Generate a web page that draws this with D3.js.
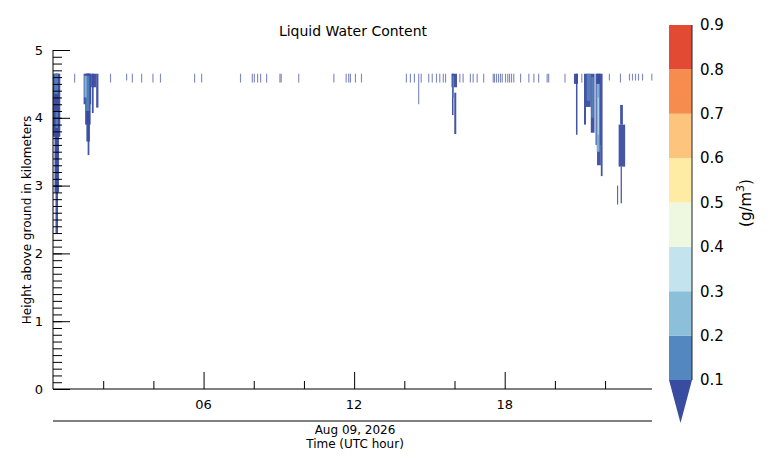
<!DOCTYPE html>
<html lang="en">
<head>
<meta charset="UTF-8">
<title>Liquid Water Content</title>
<script src="https://d3js.org/d3.v7.min.js"></script>
<style>
  body { margin: 0; background: #fff; }
  text { font-family: "DejaVu Sans", sans-serif; fill: #000; }
</style>
</head>
<body>
<div id="chart"></div>
<script>

// colour levels (g/m3) and their fills, first one is the "below 0.1" colour
const levels = [0.1, 0.2, 0.3, 0.4, 0.5, 0.6, 0.7, 0.8, 0.9];
const levelColors = ["#3a4ca0", "#5387bf", "#8bbfda", "#c3e3ee", "#eef7df",
                     "#feeca4", "#fdc47d", "#f78c4f", "#e24a33"];

// thin drizzle streaks hanging under the cloud top: hour and lowest height (km)
const streakHours = [0.84, 2.27, 2.91, 3.14, 3.51, 3.96, 4.26, 5.62, 5.90, 7.45,
  7.92, 8.00, 8.13, 8.25, 8.49, 9.02, 9.07, 9.77, 11.17, 11.66, 11.76, 11.83,
  12.03, 12.27, 14.06, 14.22, 14.38, 14.55, 14.65, 14.95, 15.09, 15.26, 15.39,
  15.53, 15.62, 16.19, 16.32, 16.61, 16.72, 16.88, 17.14, 17.52, 17.57, 17.65,
  17.73, 17.81, 17.88, 18.01, 18.10, 18.17, 18.25, 18.34, 18.61, 18.94, 19.14,
  19.33, 19.67, 19.73, 20.38, 21.05, 22.15, 22.59, 22.95, 23.07, 23.19, 23.31,
  23.47, 23.84];
const streakBase = [4.52, 4.52, 4.55, 4.52, 4.52, 4.52, 4.52, 4.52, 4.52, 4.52,
  4.52, 4.52, 4.52, 4.52, 4.52, 4.52, 4.52, 4.52, 4.52, 4.52, 4.52, 4.52,
  4.52, 4.52, 4.52, 4.52, 4.52, 4.20, 4.52, 4.52, 4.52, 4.52, 4.52,
  4.52, 4.52, 4.52, 4.52, 4.52, 4.52, 4.52, 4.52, 4.52, 4.52, 4.52,
  4.52, 4.52, 4.52, 4.52, 4.52, 4.52, 4.52, 4.52, 4.52, 4.52, 4.52,
  4.52, 4.52, 4.52, 4.52, 4.52, 4.55, 4.52, 4.55, 4.55, 4.55, 4.55,
  4.55, 4.55];

// denser cells: start hour, end hour, bottom km, top km, water content g/m3
const cellStart  = [0.00, 0.06, 0.10, 0.05, 0.10,
  1.22, 1.28, 1.33, 1.38, 1.52, 1.55, 1.72, 1.30, 1.25,
  15.88, 15.90, 15.99, 15.92,
  20.76, 20.84, 21.16, 21.24, 21.43, 21.62, 21.68, 21.83, 21.27, 21.45, 21.66, 21.71,
  22.60, 22.54, 22.62, 22.48];
const cellEnd    = [0.29, 0.24, 0.20, 0.20, 0.20,
  1.52, 1.50, 1.47, 1.45, 1.72, 1.62, 1.81, 1.45, 1.34,
  16.10, 15.96, 16.07, 15.98,
  20.92, 20.90, 21.24, 21.43, 21.58, 21.83, 21.83, 21.90, 21.40, 21.55, 21.78, 21.75,
  22.71, 22.80, 22.67, 22.52];
const cellBottom = [3.72, 2.90, 2.30, 4.35, 3.85,
  4.20, 3.90, 3.65, 3.45, 4.45, 4.07, 4.15, 4.10, 4.30,
  4.45, 4.04, 3.76, 4.30,
  4.50, 3.75, 3.90, 4.16, 3.78, 3.60, 3.30, 3.14, 4.25, 4.00, 3.50, 3.75,
  3.90, 3.28, 2.74, 2.72];
const cellTop    = [4.65, 4.65, 4.65, 4.65, 4.10,
  4.65, 4.65, 4.65, 4.65, 4.65, 4.65, 4.65, 4.62, 4.62,
  4.65, 4.65, 4.37, 4.62,
  4.65, 4.65, 4.65, 4.65, 4.65, 4.65, 4.65, 4.65, 4.65, 4.60, 4.50, 4.30,
  4.19, 3.90, 3.28, 3.00];
const cellValue  = [0.05, 0.05, 0.05, 0.15, 0.12,
  0.05, 0.05, 0.05, 0.05, 0.05, 0.05, 0.05, 0.15, 0.25,
  0.05, 0.05, 0.05, 0.15,
  0.05, 0.05, 0.05, 0.05, 0.05, 0.05, 0.05, 0.05, 0.15, 0.15, 0.25, 0.35,
  0.05, 0.05, 0.05, 0.05];

const xTickHours = [2, 4, 6, 8, 10, 12, 14, 16, 18, 20, 22];
const xLabelHours = [6, 12, 18];
const yTicks = [0, 1, 2, 3, 4, 5];

const width = 773, height = 471;
const plot = {left: 53, right: 652, top: 50, bottom: 389};

const svg = d3.select("#chart").append("svg")
    .attr("width", width)
    .attr("height", height);

const x = d3.scaleLinear().domain([0, 23.87]).range([plot.left, plot.right]);
const y = d3.scaleLinear().domain([0, 5]).range([plot.bottom, plot.top]);
const color = d3.scaleThreshold().domain(levels.slice(0, 8)).range(levelColors);

// data marks
const marks = svg.append("g");

marks.selectAll("rect.streak")
    .data(streakHours)
    .join("rect")
    .attr("class", "streak")
    .attr("x", d => x(d))
    .attr("width", x(0.045) - x(0))
    .attr("y", y(4.65))
    .attr("height", (d, i) => y(streakBase[i]) - y(4.65))
    .attr("fill", levelColors[0])
    .attr("opacity", 0.65);

const cells = d3.range(cellStart.length);
marks.selectAll("rect.cell")
    .data(cells)
    .join("rect")
    .attr("class", "cell")
    .attr("x", i => x(cellStart[i]))
    .attr("width", i => x(cellEnd[i]) - x(cellStart[i]))
    .attr("y", i => y(cellTop[i]))
    .attr("height", i => y(cellBottom[i]) - y(cellTop[i]))
    .attr("fill", i => color(cellValue[i]))
    .attr("opacity", i => cellValue[i] < 0.1 ? 0.95 : 0.85);

// y axis: ticks point inwards, minor every 0.1 km
const yAxis = svg.append("g").attr("transform", `translate(${plot.left},0)`);
yAxis.append("g")
    .call(d3.axisRight(y).tickValues(d3.range(0, 50).map(d => d / 10)).tickSize(9).tickFormat(""))
    .call(g => g.select(".domain").remove());
yAxis.append("g")
    .call(d3.axisRight(y).tickValues(yTicks).tickSize(17).tickFormat(""))
    .call(g => g.select(".domain").remove());
yAxis.append("line")
    .attr("y1", plot.top).attr("y2", plot.bottom)
    .attr("stroke", "#000");
yAxis.selectAll("text.ylab")
    .data(yTicks)
    .join("text")
    .attr("class", "ylab")
    .attr("x", -10)
    .attr("y", d => y(d))
    .attr("dy", "0.35em")
    .attr("text-anchor", "end")
    .style("font-size", "13px")
    .text(d => d);
yAxis.selectAll(".tick line").attr("stroke", "#000");

// x axis
const xAxis = svg.append("g").attr("transform", `translate(0,${plot.bottom})`);
xAxis.append("g")
    .call(d3.axisTop(x).tickValues(xTickHours.filter(d => !xLabelHours.includes(d))).tickSize(8).tickFormat(""))
    .call(g => g.select(".domain").remove());
xAxis.append("g")
    .call(d3.axisTop(x).tickValues(xLabelHours).tickSize(17).tickFormat(""))
    .call(g => g.select(".domain").remove());
xAxis.append("line")
    .attr("x1", plot.left).attr("x2", plot.right)
    .attr("stroke", "#000");
xAxis.selectAll("text.xlab")
    .data(xLabelHours)
    .join("text")
    .attr("class", "xlab")
    .attr("x", d => x(d))
    .attr("y", 20)
    .attr("text-anchor", "middle")
    .style("font-size", "13px")
    .text(d => d3.format("02d")(d));
xAxis.selectAll(".tick line").attr("stroke", "#000");

// date axis line underneath
svg.append("line")
    .attr("x1", plot.left).attr("x2", plot.right)
    .attr("y1", 421).attr("y2", 421)
    .attr("stroke", "#000");
svg.append("text")
    .attr("x", 355).attr("y", 434)
    .attr("text-anchor", "middle")
    .style("font-size", "12px")
    .text("Aug 09, 2026");
svg.append("text")
    .attr("x", 355).attr("y", 448)
    .attr("text-anchor", "middle")
    .style("font-size", "12px")
    .text("Time (UTC hour)");

// titles
svg.append("text")
    .attr("x", 353).attr("y", 36)
    .attr("text-anchor", "middle")
    .style("font-size", "14px")
    .text("Liquid Water Content");
svg.append("text")
    .attr("transform", "translate(31,220) rotate(-90)")
    .attr("text-anchor", "middle")
    .style("font-size", "12px")
    .text("Height above ground in kilometers");

// colour bar
const cb = {left: 669, width: 23, top: 25, bottom: 380, tip: 423};
const cy = d3.scaleLinear().domain([0.1, 0.9]).range([cb.bottom, cb.top]);
const bar = svg.append("g");
bar.selectAll("rect")
    .data(d3.pairs(levels))
    .join("rect")
    .attr("x", cb.left)
    .attr("width", cb.width)
    .attr("y", d => cy(d[1]))
    .attr("height", d => cy(d[0]) - cy(d[1]))
    .attr("fill", d => color((d[0] + d[1]) / 2));
bar.append("path")
    .attr("d", `M${cb.left},${cb.bottom}L${cb.left + cb.width},${cb.bottom}L${cb.left + cb.width / 2},${cb.tip}Z`)
    .attr("fill", levelColors[0]);
bar.append("line")
    .attr("x1", cb.left + cb.width).attr("x2", cb.left + cb.width)
    .attr("y1", cb.top).attr("y2", cb.bottom)
    .attr("stroke", "#222");
bar.append("g")
    .attr("transform", `translate(${cb.left + cb.width},0)`)
    .call(d3.axisRight(cy).tickValues(levels).tickSize(0).tickPadding(8).tickFormat(d3.format(".1f")))
    .call(g => g.select(".domain").remove())
    .call(g => g.selectAll("text").style("font-size", "15px").attr("fill", "#000"));

const unit = svg.append("text")
    .attr("transform", "translate(751,203) rotate(-90)")
    .attr("text-anchor", "middle")
    .style("font-size", "15px");
unit.append("tspan").text("(g/m");
unit.append("tspan").attr("dy", -7).style("font-size", "11px").text("3");
unit.append("tspan").attr("dy", 7).text(")");

</script>
</body>
</html>
